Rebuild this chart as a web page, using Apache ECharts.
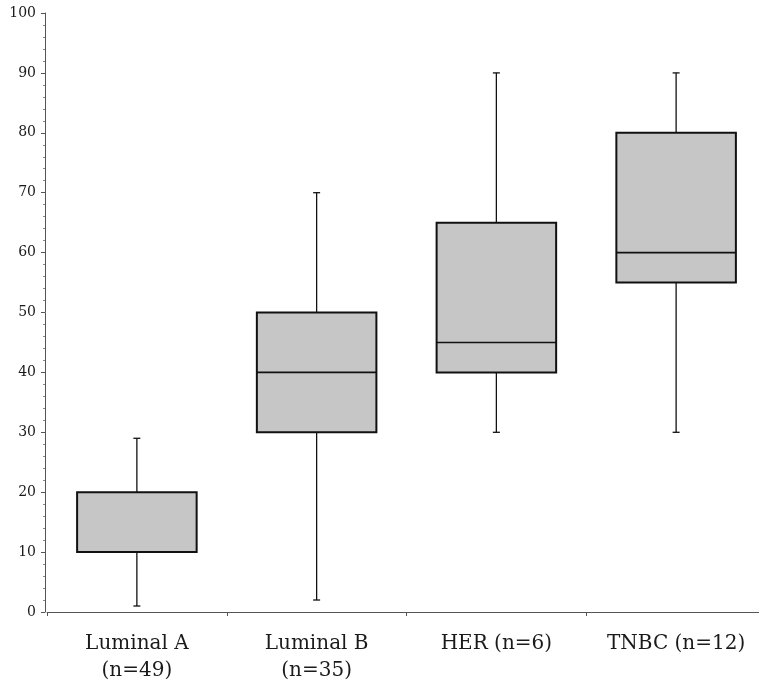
<!DOCTYPE html>
<html><head><meta charset="utf-8">
<script src="https://cdn.jsdelivr.net/npm/echarts@6/dist/echarts.min.js"></script>
<style>html,body{margin:0;padding:0;background:#fff;overflow:hidden}#c{width:766px;height:685px}</style>
</head><body><div id="c"></div>
<script>
const categories = ['Luminal A\n(n=49)', 'Luminal B\n(n=35)', 'HER (n=6)', 'TNBC (n=12)'];
const mins    = [1, 2, 30, 30];
const q1s     = [10, 30, 40, 55];
const medians = [10, 40, 45, 60];
const q3s     = [20, 50, 65, 80];
const maxs    = [29, 70, 90, 90];

const data = categories.map((c, i) => [i, mins[i], q1s[i], medians[i], q3s[i], maxs[i]]);
const chart = echarts.init(document.getElementById('c'));
const serif = 'DejaVu Serif';
chart.setOption({
  animation: false,
  grid: {left: 47, top: 13, right: 0, bottom: 73, containLabel: false},
  xAxis: {
    type: 'category', data: categories,
    axisLine: {lineStyle: {color: '#555', width: 1}},
    axisTick: {show: true, length: 4, inside: false, lineStyle: {color: '#555'}},
    axisLabel: {color: '#1a1a1a', fontFamily: serif, fontSize: 20, lineHeight: 27, margin: 18},
    splitLine: {show: false}
  },
  yAxis: {
    type: 'value', min: 0, max: 100, interval: 10, offset: 2,
    axisLine: {show: true, lineStyle: {color: '#555', width: 1}},
    axisTick: {show: true, length: 4, lineStyle: {color: '#555'}},
    minorTick: {show: true, splitNumber: 5, length: 2, lineStyle: {color: '#888'}},
    axisLabel: {color: '#1a1a1a', fontFamily: serif, fontSize: 14, margin: 9},
    splitLine: {show: false}
  },
  series: [{
    type: 'custom',
    data: data,
    renderItem: function (params, api) {
      const x = api.value(0);
      const pMin = api.coord([x, api.value(1)]);
      const pQ1 = api.coord([x, api.value(2)]);
      const pMed = api.coord([x, api.value(3)]);
      const pQ3 = api.coord([x, api.value(4)]);
      const pMax = api.coord([x, api.value(5)]);
      const bw = api.size([1, 0])[0] * 0.665;
      const cx = pQ1[0];
      const cap = 3.5;
      const ls = {stroke: '#111', lineWidth: 1.3};
      return {
        type: 'group',
        children: [
          {type: 'line', shape: {x1: cx, y1: pMax[1], x2: cx, y2: pQ3[1]}, style: ls},
          {type: 'line', shape: {x1: cx, y1: pQ1[1], x2: cx, y2: pMin[1]}, style: ls},
          {type: 'line', shape: {x1: cx - cap, y1: pMax[1], x2: cx + cap, y2: pMax[1]}, style: ls},
          {type: 'line', shape: {x1: cx - cap, y1: pMin[1], x2: cx + cap, y2: pMin[1]}, style: ls},
          {type: 'rect', shape: {x: cx - bw / 2, y: pQ3[1], width: bw, height: pQ1[1] - pQ3[1]},
            style: {fill: '#c6c6c6', stroke: '#111', lineWidth: 2}},
          {type: 'line', shape: {x1: cx - bw / 2, y1: pMed[1], x2: cx + bw / 2, y2: pMed[1]},
            style: {stroke: '#111', lineWidth: 1.6}}
        ]
      };
    }
  }]
});
</script></body></html>
